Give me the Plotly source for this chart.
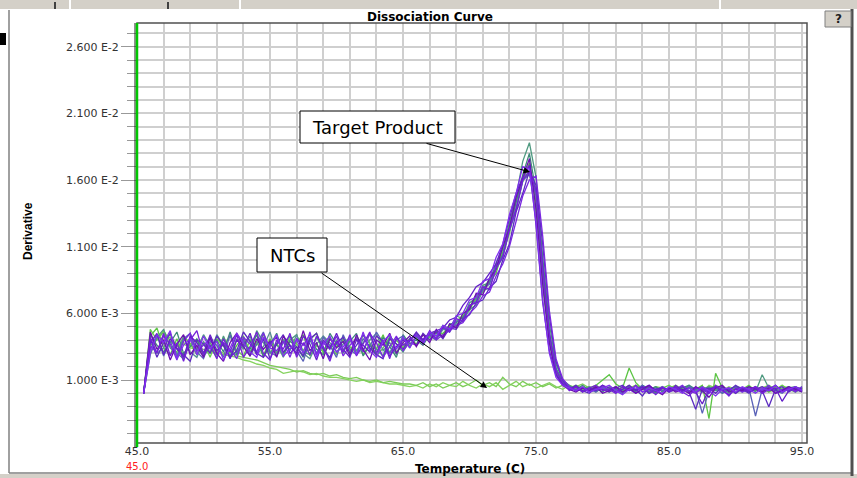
import plotly.graph_objects as go

# temperature grid (deg C), step 0.5
temps = [round(45.5 + 0.5 * i, 2) for i in range(100)]

# derivative values in units of 1E-4
p1 = [0,42,30,45,28,38,24,40,47,29, 36,26,41,31,44,27,35,46,30,25,
      40,33,45,27,38,29,43,35,24,39, 31,44,28,37,46,30,40,26,42,36,
      40,44,38,47,41,50,46,56,54,66, 68,80,78,94,102,123,138,160,167,152,
      95,45,17,8,2,5,1,4,6,2, 3,0,5,2,6,1,3,-1,4,2,
      5,1,-2,4,3,0,6,2,-1,3, 4,2,5,0,3,6,1,4,2,3]
p2 = [0,46,33,40,25,37,44,29,36,27, 42,30,24,38,45,35,28,41,33,39,
      27,43,36,30,47,32,38,26,41,34, 39,28,44,33,25,40,36,45,30,38,
      43,35,44,38,48,42,52,49,60,63, 75,74,86,93,110,124,147,162,176,138,
      82,38,14,6,3,1,4,2,5,0, 2,5,1,4,0,3,6,2,-1,4,
      1,3,0,5,2,-3,4,6,1,3, 2,5,3,1,4,0,2,5,3,1]
p3 = [0,30,44,38,47,26,36,41,29,43, 33,39,25,34,45,38,31,27,42,35,
      44,28,33,40,30,46,27,37,43,31, 35,41,29,46,32,27,39,44,33,42,
      34,44,37,46,43,51,48,58,60,70, 72,84,86,102,112,134,150,170,168,128,
      70,30,12,6,4,2,5,1,3,4, 6,2,-1,3,5,1,4,2,0,5,
      3,0,4,1,5,2,-2,3,4,1, 5,3,0,4,2,6,1,3,5,2]
p4 = [0,41,27,38,45,33,29,24,40,37, 30,43,36,27,32,46,39,29,41,26,
      37,44,30,35,28,41,45,33,27,38, 42,30,36,44,34,29,26,41,37,33,
      41,36,45,40,46,41,49,48,56,59, 68,70,79,84,100,112,136,150,167,156,
      112,58,24,10,3,6,2,0,4,3, 1,4,6,2,3,-2,5,1,4,3,
      2,5,1,-12,3,4,0,5,2,6, 3,0,4,2,-10,3,5,1,4,2]
p5 = [0,35,31,43,37,25,39,45,32,36, 41,29,38,33,26,42,37,31,45,34,
      32,39,27,41,36,44,29,38,33,43, 28,36,41,31,45,38,27,35,43,32,
      38,36,41,44,40,44,47,51,53,60, 65,73,76,88,97,110,128,148,160,163,
      118,62,26,11,5,2,4,1,3,6, 2,5,1,3,0,4,6,2,5,1,
      3,6,2,0,4,1,5,3,-2,4, 1,3,5,2,6,0,3,4,1,5]
p6 = [0,38,45,29,41,34,27,43,38,30, 44,32,37,26,40,35,45,30,27,38,
      42,31,36,29,43,37,25,40,34,45, 33,27,40,36,31,43,39,28,35,40,
      39,46,40,45,47,49,55,57,66,72, 80,83,90,97,112,130,150,162,171,126,
      68,32,14,7,3,5,1,4,2,6, 4,1,3,6,2,5,0,3,4,1,
      6,2,4,1,-8,3,5,2,4,0, 4,1,3,5,2,4,-6,2,5,3]
b1 = [0,33,44,28,39,27,41,45,31,26, 39,36,27,44,30,41,28,37,46,31,
      28,38,43,32,24,40,30,42,36,27, 44,33,29,41,35,46,38,30,40,43,
      34,43,37,45,41,49,46,54,55,66, 69,78,82,96,103,123,139,160,164,150,
      92,44,18,8,5,2,4,3,1,5, 2,4,0,5,3,6,1,4,2,3,
      4,1,5,3,-15,2,4,0,3,5, 1,4,-17,3,5,2,0,4,3,1]
t1 = [0,29,42,48,34,30,26,41,33,44, 36,27,43,31,29,40,28,47,38,30,
      37,27,40,44,31,29,42,34,26,40, 30,41,32,38,44,33,28,43,37,31,
      40,45,39,46,43,51,48,58,56,68, 71,81,83,98,108,129,148,174,188,162,
      102,52,22,10,6,3,2,5,1,4, 3,5,2,4,1,6,3,0,5,2,
      4,2,6,1,3,5,2,4,0,3, 2,5,1,14,4,2,3,5,1,4]
t2 = [0,41,30,34,45,28,42,31,27,39, 30,44,36,28,41,33,43,29,35,46,
      29,40,32,44,30,26,37,43,38,31, 37,42,30,33,40,45,32,38,29,41,
      35,42,39,43,40,48,47,52,54,63, 66,77,79,93,102,122,137,159,167,148,
      88,40,15,7,3,4,1,5,2,3, 4,1,3,5,2,4,0,3,5,1,
      3,5,2,4,1,3,5,2,4,0, 3,1,4,2,5,3,1,4,2,5]
t3 = [0,44,36,31,38,46,30,35,41,28, 35,40,31,46,29,37,33,44,27,36,
      45,30,39,35,27,42,33,29,45,37, 32,39,45,28,36,30,42,35,27,44,
      37,40,36,44,46,42,52,53,57,64, 74,77,86,95,104,126,143,164,180,151,
      96,46,19,9,5,3,6,2,4,1, 5,3,0,4,2,6,3,5,1,4,
      2,4,6,3,5,1,4,0,3,5, 4,2,5,1,3,6,2,4,5,2]
g1 = [0,43,49,34,29,41,27,37,40,30, 38,29,42,27,36,43,31,39,28,41,
      30,40,33,38,44,28,36,31,42,35, 39,31,42,29,37,33,44,30,40,34,
      41,37,44,42,45,45,50,50,60,62, 73,76,84,90,109,121,145,159,173,143,
      86,40,16,8,5,3,4,2,6,10, 14,7,4,19,8,3,5,2,4,3,
      5,2,4,3,6,-19,15,4,2,5, 3,6,2,4,1,5,3,2,4,3]
g2 = [0,48,40,46,35,31,43,37,29,38, 27,41,35,43,32,28,40,36,44,30,
      38,28,43,37,32,40,45,30,36,29, 41,35,30,44,38,28,34,42,31,37,
      36,43,40,42,47,44,51,54,58,66, 70,79,83,95,106,120,144,160,165,135,
      80,38,15,9,4,6,3,5,2,4, 1,4,3,6,2,5,3,1,4,6,
      3,5,1,4,2,5,3,6,1,4, 2,5,3,1,4,2,6,3,1,4]
ntc1 = [0,38,44,40,42,36,37,34,33,31, 32,30,29,28,27,25,24,22,21,19,
        18,15,16,17,16,14,15,13,12,12, 11,10,9,10,8,9,8,7,7,6,
        5,6,4,7,5,8,6,5,9,6, 4,7,5,8,3,6,9,5,7,4,
        6,8,5,3,6,4,2,5,3,4, 3,5,2,4,6,3,1,5,4,2,
        4,2,5,3,1,6,4,2,5,3, 2,4,3,5,1,3,6,2,4,3]
ntc2 = [0,36,40,47,39,35,38,36,34,33, 31,33,30,31,28,27,26,25,23,21,
        20,19,18,16,17,15,14,15,13,14, 12,11,12,10,9,10,8,9,8,7,
        7,6,8,5,7,4,6,8,5,7, 10,6,8,5,12,7,5,9,6,8,
        5,7,4,6,3,5,7,4,6,3, 4,2,5,3,6,4,2,5,3,4,
        6,3,4,2,5,3,6,4,2,5, 3,5,2,4,6,3,4,5,2,4]

series = [
    ("NTC 1", ntc1, "#86d35f"),
    ("NTC 2", ntc2, "#7ccc58"),
    ("G1", g1, "#5cc444"),
    ("G2", g2, "#6acb50"),
    ("T1", t1, "#4f9a80"),
    ("T3", t3, "#3f8a78"),
    ("T2", t2, "#5a8f95"),
    ("B1", b1, "#5a62b8"),
    ("P4", p4, "#5c2cc0"),
    ("P5", p5, "#7a28e0"),
    ("P2", p2, "#6a10b0"),
    ("P6", p6, "#6420c8"),
    ("P1", p1, "#7420d8"),
    ("P3", p3, "#8030ee"),
]

xticks = [45, 55, 65, 75, 85, 95]
xtick_text = ["45.0", "55.0", "65.0", "75.0", "85.0", "95.0"]
yticks = [0.001, 0.006, 0.011, 0.016, 0.021, 0.026]
ytick_text = ["1.000 E-3", "6.000 E-3", "1.100 E-2", "1.600 E-2", "2.100 E-2", "2.600 E-2"]

fig = go.Figure()
for name, vals, col in series:
    fig.add_trace(go.Scatter(x=temps, y=[v * 1e-4 for v in vals], mode="lines",
                             name=name, line=dict(color=col, width=1.3),
                             showlegend=False))

L, R, T, B = 137, 807, 23, 443
W, H = 857, 478
def xp(px):
    return (px - L) / (R - L)
def yp(py):
    return (B - py) / (B - T)

grid = "#cfcfcf"
tickfont = dict(family="DejaVu Sans, Verdana, sans-serif", size=11, color="#333333")

fig.update_layout(
    width=W, height=H,
    margin=dict(l=L, r=W - R, t=T, b=H - B),
    paper_bgcolor="white", plot_bgcolor="white",
    xaxis=dict(range=[45, 95.37], tickmode="array", tickvals=xticks, ticktext=xtick_text,
               showgrid=True, gridcolor=grid, gridwidth=2, ticks="", zeroline=False,
               tickfont=tickfont, showline=False,
               minor=dict(tick0=45, dtick=2, showgrid=True, gridcolor=grid, gridwidth=2)),
    yaxis=dict(range=[-0.003725, 0.027775], tickmode="array", tickvals=yticks, ticktext=ytick_text,
               showgrid=True, gridcolor=grid, gridwidth=2, ticks="outside", ticklen=15,
               tickcolor="#999999", tickwidth=1, zeroline=False, tickfont=tickfont, showline=False,
               minor=dict(tick0=0, dtick=0.001, showgrid=True, gridcolor=grid, gridwidth=2,
                          ticks="outside", ticklen=9, tickcolor="#999999")),
)

def pline(x0, y0, x1, y1, color, width):
    return dict(type="line", xref="paper", yref="paper", x0=xp(x0), x1=xp(x1),
                y0=yp(y0), y1=yp(y1), line=dict(color=color, width=width))

shapes = [
    # top window strip
    dict(type="rect", xref="paper", yref="paper", x0=xp(0), x1=xp(W), y0=yp(9), y1=yp(-2),
         fillcolor="#d4d0c8", line=dict(width=0)),
    pline(55, 9, 55, 2, "#404040", 2),
    pline(70, 9, 70, 0, "#ffffff", 2),
    pline(168, 9, 168, 2, "#404040", 2),
    pline(240, 9, 240, 0, "#ffffff", 2),
    pline(720, 9, 720, 0, "#ffffff", 2),
    # bottom strip
    dict(type="rect", xref="paper", yref="paper", x0=xp(0), x1=xp(W), y0=yp(H + 2), y1=yp(474),
         fillcolor="#d4d0c8", line=dict(width=0)),
    # panel borders
    pline(9, 473, 9, 10, "#808080", 1.5),
    pline(9, 473, 852, 473, "#808080", 1.5),
    pline(852, 476, 852, 9, "#505050", 3),
    dict(type="rect", xref="paper", yref="paper", x0=xp(0), x1=xp(6), y0=yp(45), y1=yp(33),
         fillcolor="#000000", line=dict(width=0)),
    # plot frame
    dict(type="rect", xref="paper", yref="paper", x0=0, x1=1, y0=0, y1=1,
         line=dict(color="#505050", width=1.5)),
    pline(135, 447, 135, T, "#202020", 1),
    pline(137, 447, 137, T, "#00c800", 2.5),
    # ? button
    dict(type="rect", xref="paper", yref="paper", x0=xp(825), x1=xp(851), y0=yp(27), y1=yp(11),
         fillcolor="#d4d0c8", line=dict(color="#808080", width=1)),
    # label boxes
    dict(type="rect", xref="paper", yref="paper", x0=xp(300), x1=xp(455), y0=yp(143), y1=yp(111),
         fillcolor="white", line=dict(color="#000000", width=1)),
    dict(type="rect", xref="paper", yref="paper", x0=xp(257), x1=xp(327), y0=yp(272), y1=yp(238),
         fillcolor="white", line=dict(color="#000000", width=1)),
]
fig.update_layout(shapes=shapes)

def ptext(text, px, py, size, family="DejaVu Sans, Verdana, sans-serif", color="#000000", angle=0):
    return dict(text=text, x=xp(px), y=yp(py), xref="paper", yref="paper", showarrow=False,
                xanchor="center", yanchor="middle", textangle=angle,
                font=dict(family=family, size=size, color=color))

annots = [
    ptext("<b>Dissociation Curve</b>", 430, 17, 12),
    ptext("<b>Temperature (C)</b>", 470, 469, 12),
    ptext("<b>Derivative</b>", 28, 231, 12, family="Liberation Sans Narrow, Arial Narrow, sans-serif", angle=-90),
    ptext("45.0", 137, 466, 10, color="#ff2020"),
    ptext("<b>?</b>", 838, 19, 12, color="#202020"),
    ptext("Target Product", 377.5, 127, 18),
    ptext("NTCs", 292, 255, 18),
    dict(text="", x=74.55, y=0.0166, xref="x", yref="y", showarrow=True, ax=-105, ay=-29,
         axref="pixel", ayref="pixel", arrowhead=2, arrowsize=1.3, arrowwidth=1, arrowcolor="#000000",
         standoff=0),
    dict(text="", x=71.32, y=0.0004, xref="x", yref="y", showarrow=True, ax=-167, ay=-116,
         axref="pixel", ayref="pixel", arrowhead=2, arrowsize=1.3, arrowwidth=1, arrowcolor="#000000",
         standoff=0),
]
fig.update_layout(annotations=annots)

fig.write_html("out.html", config={"displayModeBar": False},
               post_script="document.body.style.margin='0px';")
